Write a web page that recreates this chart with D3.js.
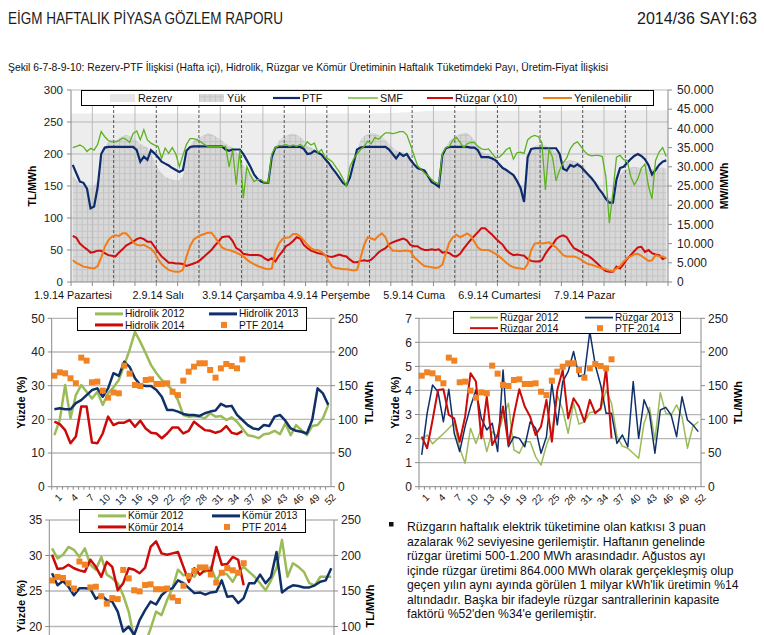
<!DOCTYPE html>
<html><head><meta charset="utf-8">
<script src="https://cdn.jsdelivr.net/npm/d3@7/dist/d3.min.js"></script>
<style>body{margin:0;background:#fff}svg{display:block;font-family:"Liberation Sans",Arial,sans-serif}</style>
</head><body>
<svg id="c" width="764" height="635"></svg>
<script>
// ---------------- DATA ----------------
const titleLeft = "EİGM HAFTALIK PİYASA GÖZLEM RAPORU";
const titleRight = "2014/36 SAYI:63";
const subtitle = "Şekil 6-7-8-9-10: Rezerv-PTF İlişkisi (Hafta içi), Hidrolik, Rüzgar ve Kömür Üretiminin Haftalık Tüketimdeki Payı, Üretim-Fiyat İlişkisi";
const dayLabels = ["1.9.14 Pazartesi","2.9.14 Salı","3.9.14 Çarşamba","4.9.14 Perşembe","5.9.14 Cuma","6.9.14 Cumartesi","7.9.14 Pazar"];
const topLegend = ["Rezerv","Yük","PTF","SMF","Rüzgar (x10)","Yenilenebilir"];
const leftTicksTop = [0,50,100,150,200,250,300];
const rightTicksTop = [0,5000,10000,15000,20000,25000,30000,35000,40000,45000,50000];

// hourly PTF (TL/MWh), 168 hours
const ptf = [
183,170,157,155,146,115,118,148,200,210,211,211,211,211,211,211,211,211,206,188,196,191,206,201,
195,188,185,182,178,175,172,175,205,211,212,212,212,212,212,212,212,212,212,207,205,207,207,207,
200,190,180,168,161,157,155,155,195,210,211,211,211,211,211,211,211,208,200,201,205,202,199,192,
186,178,171,163,155,151,163,185,207,210,211,211,211,211,211,211,211,207,200,193,201,197,200,191,
184,178,176,174,165,156,153,149,198,209,211,211,211,211,211,211,210,210,206,195,195,195,193,190,
184,178,175,171,167,158,147,125,195,208,209,209,209,209,209,209,209,200,177,174,183,180,184,180,
174,168,162,155,146,139,130,124,124,160,178,180,186,192,197,200,197,192,183,168,175,183,188,190];
// hourly SMF (TL/MWh)
const smf = [
210,212,214,211,204,209,206,215,235,227,221,219,219,221,225,223,218,232,236,222,238,222,217,214,
212,193,209,201,210,200,180,198,215,224,224,222,219,215,212,212,212,212,212,212,180,206,152,206,
131,180,167,157,160,160,155,155,200,210,213,213,215,212,214,212,215,211,219,214,217,202,207,195,
192,188,180,172,162,150,180,192,200,207,212,220,216,226,223,228,233,233,232,233,235,235,230,215,
198,182,176,170,166,160,156,153,201,210,212,222,226,218,210,216,218,218,212,208,207,208,201,194,
195,200,207,210,192,202,203,201,222,227,229,227,218,144,207,195,158,175,186,194,208,216,219,212,
204,199,197,198,198,196,165,92,140,195,198,191,190,165,152,161,178,184,150,130,190,203,210,196];
// hourly Rüzgar (x10), left axis units
const ruzgar = [
72,69,60,55,51,46,47,49,49,45,42,41,40,46,51,57,60,63,67,69,67,63,63,55,
47,40,35,30,30,29,29,28,25,27,29,31,35,40,45,50,57,63,70,71,71,64,53,50,
44,43,42,42,42,41,37,34,37,32,41,48,56,59,64,70,68,58,53,49,47,45,44,42,
40,39,41,43,41,40,35,31,31,33,34,33,35,40,46,50,53,59,62,64,66,68,65,58,
56,56,52,50,50,51,50,51,46,47,45,41,40,44,52,59,66,72,78,84,84,79,74,68,
63,58,50,45,42,43,42,41,36,33,32,32,34,44,52,58,67,71,73,70,61,53,50,47,
43,41,37,32,27,21,17,16,16,24,21,28,36,42,48,54,55,47,50,45,43,42,36,38];
// hourly Yenilenebilir, left axis units
const yenilenebilir = [
34,30,27,24,23,22,21,25,38,55,65,71,73,72,76,76,70,62,58,57,58,55,52,46,
36,28,23,19,17,16,16,19,40,56,66,70,73,75,77,77,70,62,54,51,50,48,46,43,
40,35,31,28,25,23,21,20,21,47,60,67,69,70,75,75,71,65,58,53,50,50,47,42,
33,24,22,21,20,20,19,18,19,38,58,70,68,66,72,76,70,56,49,49,48,49,49,48,
39,34,29,25,24,23,22,23,27,46,62,70,74,70,73,76,72,63,54,50,50,50,47,44,
40,35,30,26,23,22,21,20,28,50,60,61,60,61,62,58,54,48,42,40,40,40,38,35,
31,28,27,25,23,21,20,18,17,21,25,32,37,40,43,44,41,37,33,34,42,40,40,37];
// hourly Yük (MW), right axis
const yuk = [
27700,26500,25600,25000,24700,24600,24800,26500,31500,35000,36500,37200,37000,37400,38000,38300,38000,37500,36800,36000,35500,35000,33500,31500,
29500,28300,27500,27000,26700,26500,26500,27500,32000,35500,36800,37500,37800,38300,38800,38500,38000,37500,36800,36000,35500,35000,34000,32500,
30500,29000,28000,27000,26300,25800,25500,25500,31000,35000,36800,37500,38000,38500,38700,38300,37800,37000,35500,35000,34500,34000,33500,32500,
31000,29500,28300,27300,26300,25300,26000,29500,34000,37000,38000,38500,38800,38700,38300,37800,37000,36000,35000,34300,34000,33800,33300,32300,
31000,29800,29000,28300,27300,26300,25500,25000,31000,35000,36800,37500,38000,38500,38800,38800,38000,37000,35300,34000,33500,33300,32800,32000,
31000,29800,29000,28200,27500,26500,25300,24500,31500,34500,35300,35800,36000,35500,35000,34500,33800,32500,31500,31500,31800,31500,31300,30800,
29800,28500,27300,26000,24500,23300,22300,21800,22000,25000,28000,29000,29500,29800,30000,29800,29600,29500,29300,29300,29500,29700,29800,29500];
// Rezerv (MW, top of reserve band), every 6 hours h=0..168
const rezervHours = [0,6,12,18,24,30,36,42,48,54,60,66,72,78,84,90,96,102,108,114,120,126,132,138,144,150,156,162,168];
const rezerv = [43900,43900,43900,43900,43900,43900,43900,43900,43900,43900,43900,43900,43900,43900,43900,44000,44300,44600,44600,44600,44600,44600,44600,44600,44700,44700,44700,44700,44700];

// weekly charts
const weeks = d3.range(1,53);
const weekLabels = [1,4,7,10,13,16,19,22,25,28,31,34,37,40,43,46,49,52];
const ptf2014 = [164.8,169.8,168.3,160.9,153.5,191.6,187.1,155,156,142.6,132.2,140,138.6,179.7,167.8,151,149.5,158.4,159.4,152.5,152.5,153.5,141,136,157.4,170.8,178.2,183.2,183.2,173.3,161.9,175.7,182.2,179.2,175.7,189.1];
const hidrolik2012 = [15.3,19.8,30.2,20.3,27.2,30.2,28.2,26.2,28.2,24.3,27.7,29.5,31.7,36.1,40.6,46,43,39.6,36.1,33.7,31.7,30.2,28.7,25.7,21.3,20.8,21,20.8,20.3,21.8,20.8,21,19.8,20.6,19.3,17.3,15.3,15,14.4,15.6,15.8,16.6,15.6,18.8,15.3,18.3,16.8,15.3,18,18.3,20.3,24.3];
const hidrolik2013 = [23,23.3,23,23,24.8,25.7,27.2,28.7,29.2,26.7,29.2,33.7,32.9,37.1,35.6,32.2,30.2,29.9,29.9,28.7,26.7,22.8,22.8,22.3,21.6,21.3,21.3,21,21.8,22.3,22.6,24.6,23.8,24,21.3,19.8,18.3,17.3,17,18.3,18,20.8,21.3,19.6,17.3,16.6,16.3,15.8,19.8,29.2,27.7,24.3];
const hidrolik2014 = [19.3,18.6,16.8,12.9,14.9,23.8,23.8,13.1,12.9,15.8,20.8,18.3,19,19,19.8,17.8,19.6,17.3,16,15.8,14.4,15.8,17.6,17.6,15.8,16.6,19.3,18,16.8,16.6,16,16.5,18,16,15.6,16.5];
const ruzgar2012 = [1.94,2.15,1.78,2.0,2.2,2.43,2.66,1.6,0.97,2.43,1.8,2.45,1.46,2.29,2.08,2.91,3.47,1.53,1.39,1.87,1.87,1.25,0.9,1.73,2.29,3.81,3.19,2.22,3.47,2.6,2.7,3.08,3.12,3.19,4.02,3.47,2.08,1.69,1.6,1.39,1.18,2.64,3.3,1.94,3.91,3.05,2.98,3.4,2.91,1.6,2.5,2.7];
const ruzgar2013 = [1.32,3.05,4.23,3.95,2.7,4.05,2.22,1.46,2.5,3.33,4.02,2.84,2.36,2.64,1.46,4.85,1.66,2.08,2.01,1.66,2.7,2.43,1.39,2.08,4.3,2.57,4.37,4.78,5.62,4.58,4.65,6.45,5.06,4.23,3.05,3.05,1.8,2.15,1.66,4.37,2.01,3.61,3.05,1.39,3.19,3.3,2.98,2.08,3.74,2.77,2.57,2.29];
const ruzgar2014 = [2.08,1.6,2.77,4.02,4.05,2.98,2.84,1.87,2.91,4.72,4.37,2.01,3.74,1.73,2.15,3.33,1.73,2.98,4.05,3.33,2.91,2.15,2.5,3.61,1.87,4.02,4.85,2.84,3.68,3.33,2.7,3.61,3.05,3.26,4.92,2.01];
const komur2012 = [31.0,29.6,30.1,31.2,30.8,29.8,31.0,28.7,28.0,29.8,27.3,26.8,26.1,24.4,22.1,18.3,16.0,17.5,19.7,22.1,21.6,23.7,25.4,28.0,27.2,27.4,27.0,28.3,27.7,28.4,26.5,27.7,27.3,26.3,27.7,28.4,27.7,27.0,26.1,25.1,26.5,28.2,32.2,27.0,28.9,28.4,27.7,26.1,25.8,27.0,27.0,27.0];
const komur2013 = [27.5,25.8,26.4,25.6,24.4,25.4,25.4,25.3,23.9,24.4,23.7,23.5,22.1,19.3,20.0,18.8,20.9,22.3,23.5,23.1,24.4,25.1,25.4,26.5,26.1,25.4,24.7,24.8,24.5,24.8,24.9,26.5,24.2,24.3,23.3,24.0,26.1,26.1,27.3,26.1,27.0,30.5,24.8,25.4,25.8,25.7,25.5,25.5,25.8,26.3,26.5,28.2];
const komur2014 = [30.1,28.1,28.2,28.7,28.2,27.9,27.7,29.4,28.4,27.0,29.1,28.4,25.1,26.1,28.2,28.0,27.5,28.3,31.2,32.0,30.3,30.1,30.3,30.5,28.4,26.3,28.2,27.3,28.0,27.7,31.2,28.7,28.8,29.8,29.4,25.8];

const bulletLines = [
"Rüzgarın haftalık elektrik tüketimine olan katkısı 3 puan",
"azalarak %2 seviyesine gerilemiştir. Haftanın genelinde",
"rüzgar üretimi 500-1.200 MWh arasındadır. Ağustos ayı",
"içinde rüzgar üretimi 864.000 MWh olarak gerçekleşmiş olup",
"geçen yılın aynı ayında görülen 1 milyar kWh'lik üretimin %14",
"altındadır. Başka bir ifadeyle rüzgar santrallerinin kapasite",
"faktörü %52'den %34'e gerilemiştir."];

// ---------------- DRAW ----------------
const W = 764, H = 635;
const C = {ptf:"#0e2c6c", smf:"#5cb21f", ruz:"#d20c0c", yen:"#f07d1a",
           g12:"#9bbb59", n13:"#10306a", r14:"#cc0a0a", sq:"#f28322", axis:"#8a8a8a", grid:"#b8b8b8"};
const svg = d3.select("#c");
svg.append("rect").attr("width",W).attr("height",H).attr("fill","#fff");
const defs = svg.append("defs");
const pat = defs.append("pattern").attr("id","yukPat").attr("patternUnits","userSpaceOnUse")
  .attr("width",5.33).attr("height",6.4).attr("x",71).attr("y",282);
pat.append("rect").attr("width",5.33).attr("height",6.4).attr("fill","#d8d8d8");
pat.append("path").attr("d","M0,0.5H5.33M0.5,0V6.4").attr("stroke","#c3c3c3").attr("stroke-width",1);

svg.append("text").attr("x",8).attr("y",24).attr("font-size",16.5).attr("fill","#1a1a1a")
  .attr("textLength",275).attr("lengthAdjust","spacingAndGlyphs").text(titleLeft);
svg.append("text").attr("x",637).attr("y",24).attr("font-size",16.5).attr("fill","#1a1a1a")
  .attr("textLength",120).attr("lengthAdjust","spacingAndGlyphs").text(titleRight);
svg.append("text").attr("x",8).attr("y",70.5).attr("font-size",10.4).attr("fill","#111")
  .attr("textLength",600).attr("lengthAdjust","spacingAndGlyphs").text(subtitle);

// ---- top chart ----
(function(){
  const g = svg.append("g");
  const x0=71,x1=668,yb=282,yt=90;
  const xH = d3.scaleLinear().domain([0,168]).range([x0,x1]);
  const yL = d3.scaleLinear().domain([0,300]).range([yb,yt]);
  const yR = d3.scaleLinear().domain([0,50000]).range([yb,yt]);
  const fmt = d3.formatLocale({decimal:",",thousands:".",grouping:[3],currency:["",""]}).format(",d");

  g.append("path").datum(rezerv).attr("fill","#ededed")
    .attr("d", d3.area().x((d,i)=>xH(rezervHours[i])).y0(yR(0)).y1(d=>yR(d)));
  g.append("path").datum(yuk).attr("fill","url(#yukPat)")
    .attr("d", d3.area().x((d,i)=>xH(i+0.5)).y0(yR(0)).y1(d=>yR(d)));

  leftTicksTop.filter(v=>v>0).forEach(v=>{
    g.append("line").attr("x1",x0).attr("x2",x1).attr("y1",yL(v)).attr("y2",yL(v))
      .attr("stroke",C.grid).attr("stroke-width",1);
  });
  d3.range(6,168,6).forEach(h=>{
    const dashed = h%12===0;
    g.append("line").attr("x1",xH(h)).attr("x2",xH(h)).attr("y1",yt).attr("y2",yb)
      .attr("stroke",dashed?"#555":"#bcbcbc").attr("stroke-width",1)
      .attr("stroke-dasharray",dashed?"3,2":null);
  });

  const line = yS => d3.line().x((d,i)=>xH(i+0.5)).y(d=>yS(d));
  g.append("path").datum(ptf).attr("fill","none").attr("stroke",C.ptf).attr("stroke-width",2.2).attr("d",line(yL));
  g.append("path").datum(smf).attr("fill","none").attr("stroke",C.smf).attr("stroke-width",1.3).attr("d",line(yL));
  g.append("path").datum(ruzgar).attr("fill","none").attr("stroke",C.ruz).attr("stroke-width",2).attr("d",line(yL));
  g.append("path").datum(yenilenebilir).attr("fill","none").attr("stroke",C.yen).attr("stroke-width",2).attr("d",line(yL));

  // axes
  g.append("line").attr("x1",x0).attr("x2",x0).attr("y1",yt).attr("y2",yb).attr("stroke",C.axis);
  g.append("line").attr("x1",x1).attr("x2",x1).attr("y1",yt).attr("y2",yb).attr("stroke",C.axis);
  g.append("line").attr("x1",x0).attr("x2",x1).attr("y1",yb).attr("y2",yb).attr("stroke",C.axis);
  leftTicksTop.forEach(v=>{
    g.append("line").attr("x1",x0-4).attr("x2",x0).attr("y1",yL(v)).attr("y2",yL(v)).attr("stroke",C.axis);
    g.append("text").attr("x",x0-8).attr("y",yL(v)).attr("dy","0.35em").attr("text-anchor","end").attr("font-size",11.5).attr("fill","#222").text(v);
  });
  rightTicksTop.forEach(v=>{
    g.append("line").attr("x1",x1).attr("x2",x1+4).attr("y1",yR(v)).attr("y2",yR(v)).attr("stroke",C.axis);
    g.append("text").attr("x",x1+9).attr("y",yR(v)).attr("dy","0.35em").attr("font-size",12).attr("fill","#222").text(fmt(v));
  });
  d3.range(0,169,6).forEach(h=>{
    g.append("line").attr("x1",xH(h)).attr("x2",xH(h)).attr("y1",yb).attr("y2",yb+4).attr("stroke",C.axis);
  });
  dayLabels.forEach((t,i)=>{
    g.append("text").attr("x",xH(i*24)+2).attr("y",299).attr("text-anchor","middle").attr("font-size",10.8).attr("fill","#111").text(t);
  });
  g.append("text").attr("transform","translate(36,186) rotate(-90)").attr("text-anchor","middle").attr("font-weight","bold").attr("font-size",10.5).text("TL/MWh");
  g.append("text").attr("transform","translate(728,186) rotate(-90)").attr("text-anchor","middle").attr("font-weight","bold").attr("font-size",10.5).text("MW/MWh");

  // legend
  const L = g.append("g");
  L.append("rect").attr("x",81.5).attr("y",90.5).attr("width",572).attr("height",15).attr("fill","#fff").attr("stroke","#000");
  const ly = 98;
  L.append("rect").attr("x",110).attr("y",ly-4).attr("width",25).attr("height",8).attr("fill","#e6e6e6");
  L.append("rect").attr("x",199).attr("y",ly-4).attr("width",25).attr("height",8).attr("fill","url(#yukPat)");
  [[273,300,C.ptf,2.2],[348,378,C.smf,1.3],[427,453,C.ruz,2],[543,572,C.yen,2]].forEach(s=>{
    L.append("line").attr("x1",s[0]).attr("x2",s[1]).attr("y1",ly).attr("y2",ly).attr("stroke",s[2]).attr("stroke-width",s[3]);
  });
  [138,227,302,380,455,574].forEach((xx,i)=>{
    L.append("text").attr("x",xx).attr("y",ly).attr("dy","0.35em").attr("font-size",10.8).attr("fill","#111").text(topLegend[i]);
  });
})();

// ---- weekly charts ----
const visible = y => y > 0 && y < H - 2;
function weekly(o){
  const g = svg.append("g");
  const x = d3.scaleBand().domain(weeks).range([o.x0,o.x1]);
  const xc = w => x(w)+x.bandwidth()/2;
  const yl = d3.scaleLinear().domain(o.ld).range([o.yb,o.yt]);
  const yr = d3.scaleLinear().domain([0,250]).range([o.yb,o.yt]);
  o.lt.forEach(v=>{
    if (v===o.ld[0]) return;
    g.append("line").attr("x1",o.x0).attr("x2",o.x1).attr("y1",yl(v)).attr("y2",yl(v)).attr("stroke",C.grid).attr("stroke-width",1.3);
  });
  const ln = d3.line().x((d,i)=>xc(weeks[i])).y(d=>yl(d));
  o.series.forEach(s=>{
    g.append("path").datum(s.data).attr("fill","none").attr("stroke",s.color).attr("stroke-width",s.w).attr("stroke-linejoin","round").attr("d",ln);
  });
  ptf2014.forEach((v,i)=>{
    g.append("rect").attr("x",xc(weeks[i])-3).attr("y",yr(v)-3).attr("width",6).attr("height",6).attr("fill",C.sq);
  });
  // axes
  g.append("line").attr("x1",o.x0).attr("x2",o.x0).attr("y1",o.yt).attr("y2",o.yb).attr("stroke",C.axis);
  g.append("line").attr("x1",o.x1).attr("x2",o.x1).attr("y1",o.yt).attr("y2",o.yb).attr("stroke",C.axis);
  g.append("line").attr("x1",o.x0).attr("x2",o.x1).attr("y1",o.yb).attr("y2",o.yb).attr("stroke",C.axis);
  o.lt.forEach(v=>{
    g.append("line").attr("x1",o.x0-4).attr("x2",o.x0).attr("y1",yl(v)).attr("y2",yl(v)).attr("stroke",C.axis);
    if (visible(yl(v)+4)) g.append("text").attr("x",o.x0-7).attr("y",yl(v)).attr("dy","0.35em").attr("text-anchor","end").attr("font-size",12).attr("fill","#222").text(v);
  });
  [0,50,100,150,200,250].forEach(v=>{
    g.append("line").attr("x1",o.x1).attr("x2",o.x1+4).attr("y1",yr(v)).attr("y2",yr(v)).attr("stroke",C.axis);
    if (visible(yr(v)+4)) g.append("text").attr("x",o.x1+7).attr("y",yr(v)).attr("dy","0.35em").attr("font-size",12).attr("fill","#222").text(v);
  });
  weeks.forEach(w=>{
    g.append("line").attr("x1",x(w)).attr("x2",x(w)).attr("y1",o.yb).attr("y2",o.yb+3).attr("stroke",C.axis);
  });
  if (visible(o.yb+20)) weekLabels.forEach(w=>{
    g.append("text").attr("transform",`translate(${xc(w)+4},${o.yb+7}) rotate(-45)`).attr("text-anchor","end").attr("dy","0.6em")
      .attr("font-size",10).attr("fill","#222").text(w);
  });
  const ym = o.ym || (o.yt+o.yb)/2;
  g.append("text").attr("transform",`translate(${o.lx},${ym}) rotate(-90)`).attr("text-anchor","middle").attr("dy","0.35em").attr("font-weight","bold").attr("font-size",11).text("Yüzde (%)");
  g.append("text").attr("transform",`translate(${o.rx},${ym}) rotate(-90)`).attr("text-anchor","middle").attr("dy","0.35em").attr("font-weight","bold").attr("font-size",11).text("TL/MWh");
  // legend
  const b = o.leg;
  g.append("rect").attr("x",b.x+0.5).attr("y",b.y+0.5).attr("width",b.w).attr("height",b.h).attr("fill","#fff").attr("stroke","#000");
  const r1 = b.y + b.h*0.3, r2 = b.y + b.h*0.78;
  const items = [[o.series[0],b.c1,r1],[o.series[1],b.c2,r1],[o.series[2],b.c1,r2]];
  items.forEach(it=>{
    g.append("line").attr("x1",it[1]).attr("x2",it[1]+28).attr("y1",it[2]).attr("y2",it[2]).attr("stroke",it[0].color).attr("stroke-width",it[0].lw);
    g.append("text").attr("x",it[1]+30).attr("y",it[2]).attr("dy","0.35em").attr("font-size",10.2).attr("fill","#111").text(it[0].name);
  });
  g.append("rect").attr("x",b.c2+12).attr("y",r2-3).attr("width",6).attr("height",6).attr("fill",C.sq);
  g.append("text").attr("x",b.c2+30).attr("y",r2).attr("dy","0.35em").attr("font-size",10.2).attr("fill","#111").text("PTF 2014");
}

weekly({x0:51.7,x1:331,yb:486.7,yt:318.3,ld:[0,50],lt:[0,10,20,30,40,50],lx:21,rx:369,
  leg:{x:77,y:307,w:229,h:23,c1:95,c2:209},
  series:[{name:"Hidrolik 2012",data:hidrolik2012,color:C.g12,w:2.5,lw:3},
          {name:"Hidrolik 2013",data:hidrolik2013,color:C.n13,w:2.5,lw:3},
          {name:"Hidrolik 2014",data:hidrolik2014,color:C.r14,w:2.5,lw:3}]});
weekly({x0:419,x1:701,yb:486.7,yt:318.3,ld:[0,7],lt:[0,1,2,3,4,5,6,7],lx:395,rx:738,
  leg:{x:453,y:311,w:227,h:22,c1:470,c2:585},
  series:[{name:"Rüzgar 2012",data:ruzgar2012,color:C.g12,w:1.5,lw:1.8},
          {name:"Rüzgar 2013",data:ruzgar2013,color:C.n13,w:1.5,lw:1.8},
          {name:"Rüzgar 2014",data:ruzgar2014,color:C.r14,w:2,lw:2}]});
weekly({x0:49.3,x1:334,yb:697.5,yt:520,ld:[10,35],lt:[10,15,20,25,30,35],lx:21,rx:370,ym:606,
  leg:{x:79,y:509,w:226,h:23,c1:98,c2:212},
  series:[{name:"Kömür 2012",data:komur2012,color:C.g12,w:2.5,lw:3},
          {name:"Kömür 2013",data:komur2013,color:C.n13,w:2.5,lw:3},
          {name:"Kömür 2014",data:komur2014,color:C.r14,w:2.5,lw:3}]});

// bullet text
svg.append("rect").attr("x",389).attr("y",522).attr("width",4.5).attr("height",4.5).attr("fill","#111");
bulletLines.forEach((t,i)=>{
  svg.append("text").attr("x",407).attr("y",531+i*14.5).attr("font-size",12.2).attr("fill","#111").text(t);
});
</script>
</body></html>
